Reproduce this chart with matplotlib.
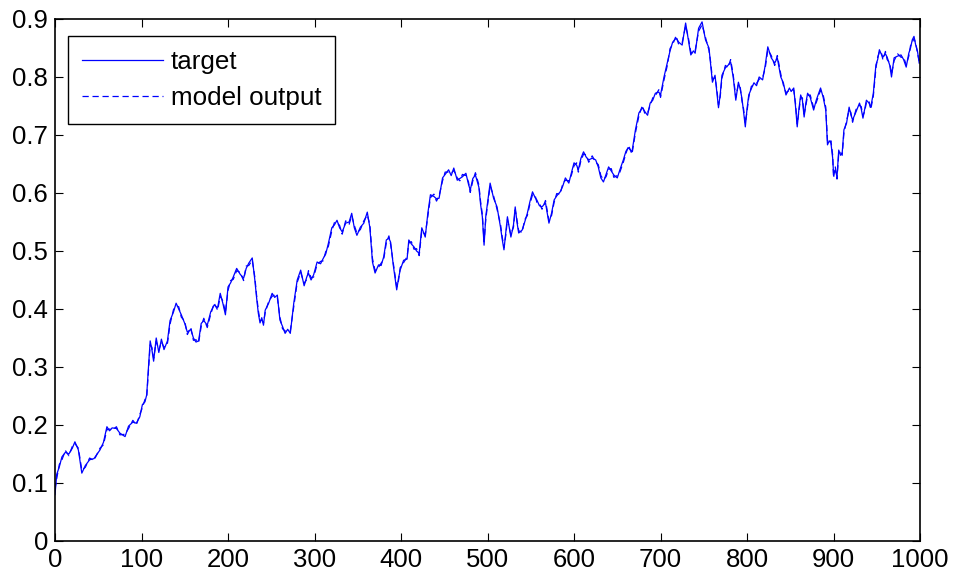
import matplotlib
matplotlib.use("Agg")
import matplotlib.pyplot as plt

# sample positions (x axis 0..1000)
steps = [
    0, 2, 5, 8, 12, 16, 20, 23, 27, 31, 35, 40, 45, 52, 56, 60, 63, 66, 71, 75,
    81, 85, 90, 94, 98, 101, 104, 106, 108, 110, 112, 114, 117, 120, 123, 126, 130, 133, 137, 140,
    143, 146, 150, 153, 157, 160, 163, 166, 169, 172, 176, 180, 184, 188, 191, 194, 197, 200, 203, 206,
    210, 214, 218, 221, 224, 228, 231, 233, 235, 237, 239, 241, 243, 247, 251, 254, 257, 260, 263, 266,
    269, 272, 276, 280, 284, 288, 291, 293, 296, 299, 303, 307, 310, 313, 316, 320, 323, 326, 329, 332,
    336, 340, 343, 346, 349, 353, 357, 361, 364, 367, 370, 374, 377, 380, 383, 386, 388, 391, 393, 395,
    397, 399, 403, 407, 409, 412, 415, 418, 421, 424, 428, 431, 434, 438, 441, 444, 448, 451, 455, 458,
    461, 465, 468, 471, 475, 478, 480, 483, 486, 490, 492, 494, 496, 498, 500, 503, 507, 511, 515, 517,
    519, 521, 523, 527, 530, 532, 534, 536, 540, 543, 546, 549, 552, 555, 557, 560, 563, 567, 569, 571,
    574, 577, 580, 584, 587, 590, 594, 597, 600, 603, 605, 608, 611, 614, 617, 621, 625, 628, 631, 634,
    637, 640, 643, 646, 650, 653, 657, 660, 663, 667, 671, 675, 679, 682, 685, 688, 691, 694, 698, 700,
    704, 708, 711, 714, 718, 721, 725, 729, 732, 735, 738, 740, 744, 748, 752, 756, 758, 760, 763, 765,
    767, 769, 771, 775, 778, 781, 784, 787, 790, 792, 794, 796, 798, 800, 802, 805, 808, 811, 814, 818,
    821, 824, 828, 832, 835, 839, 842, 845, 849, 851, 854, 856, 858, 860, 862, 864, 866, 868, 870, 873,
    877, 880, 885, 888, 891, 893, 895, 897, 899, 900, 902, 904, 906, 908, 910, 912, 915, 918, 920, 922,
    926, 930, 932, 934, 936, 938, 941, 943, 946, 949, 951, 953, 955, 957, 960, 962, 965, 967, 970, 974,
    978, 981, 984, 987, 989, 991, 993, 995, 997, 999,
]

target = [
    0.080, 0.115, 0.128, 0.145, 0.153, 0.150, 0.160, 0.171, 0.157, 0.117, 0.130, 0.140, 0.142, 0.157, 0.170, 0.197, 0.190, 0.195, 0.194, 0.186,
    0.180, 0.198, 0.205, 0.203, 0.214, 0.235, 0.240, 0.252, 0.300, 0.345, 0.330, 0.310, 0.350, 0.325, 0.348, 0.330, 0.345, 0.380, 0.395, 0.410,
    0.400, 0.390, 0.375, 0.360, 0.365, 0.350, 0.343, 0.345, 0.375, 0.380, 0.372, 0.395, 0.407, 0.402, 0.427, 0.410, 0.390, 0.438, 0.445, 0.455,
    0.470, 0.460, 0.453, 0.470, 0.479, 0.488, 0.450, 0.420, 0.393, 0.376, 0.385, 0.372, 0.398, 0.410, 0.427, 0.420, 0.424, 0.381, 0.370, 0.358,
    0.365, 0.358, 0.410, 0.450, 0.467, 0.440, 0.455, 0.462, 0.450, 0.459, 0.481, 0.478, 0.487, 0.495, 0.513, 0.540, 0.545, 0.553, 0.540, 0.533,
    0.548, 0.550, 0.565, 0.540, 0.527, 0.541, 0.548, 0.567, 0.540, 0.481, 0.462, 0.476, 0.475, 0.490, 0.519, 0.522, 0.515, 0.476, 0.455, 0.433,
    0.452, 0.467, 0.484, 0.486, 0.519, 0.512, 0.507, 0.500, 0.496, 0.540, 0.524, 0.565, 0.597, 0.594, 0.590, 0.591, 0.626, 0.632, 0.640, 0.630,
    0.643, 0.622, 0.625, 0.628, 0.634, 0.615, 0.605, 0.625, 0.631, 0.610, 0.580, 0.559, 0.510, 0.560, 0.583, 0.617, 0.591, 0.576, 0.541, 0.520,
    0.502, 0.530, 0.559, 0.524, 0.545, 0.576, 0.550, 0.531, 0.536, 0.550, 0.565, 0.585, 0.602, 0.592, 0.588, 0.578, 0.576, 0.583, 0.565, 0.548,
    0.565, 0.588, 0.595, 0.602, 0.612, 0.626, 0.617, 0.635, 0.652, 0.648, 0.640, 0.660, 0.671, 0.662, 0.657, 0.660, 0.657, 0.645, 0.626, 0.619,
    0.632, 0.645, 0.638, 0.631, 0.626, 0.640, 0.657, 0.672, 0.678, 0.671, 0.709, 0.738, 0.747, 0.740, 0.734, 0.755, 0.760, 0.772, 0.774, 0.769,
    0.800, 0.826, 0.845, 0.860, 0.867, 0.860, 0.855, 0.893, 0.865, 0.838, 0.845, 0.841, 0.884, 0.895, 0.864, 0.850, 0.820, 0.791, 0.803, 0.775,
    0.747, 0.770, 0.803, 0.816, 0.820, 0.826, 0.800, 0.760, 0.791, 0.780, 0.764, 0.740, 0.714, 0.745, 0.769, 0.780, 0.790, 0.785, 0.800, 0.795,
    0.820, 0.852, 0.833, 0.824, 0.833, 0.800, 0.790, 0.769, 0.781, 0.775, 0.781, 0.750, 0.714, 0.745, 0.769, 0.760, 0.731, 0.755, 0.772, 0.765,
    0.743, 0.760, 0.781, 0.765, 0.743, 0.683, 0.690, 0.686, 0.660, 0.634, 0.640, 0.628, 0.674, 0.665, 0.669, 0.709, 0.720, 0.748, 0.735, 0.726,
    0.740, 0.755, 0.745, 0.729, 0.745, 0.760, 0.755, 0.748, 0.772, 0.821, 0.830, 0.847, 0.840, 0.834, 0.840, 0.834, 0.820, 0.800, 0.833, 0.836,
    0.838, 0.830, 0.817, 0.841, 0.850, 0.864, 0.870, 0.855, 0.845, 0.824,
]

model = [
    0.090, 0.108, 0.132, 0.140, 0.156, 0.147, 0.163, 0.168, 0.160, 0.122, 0.127, 0.143, 0.139, 0.160, 0.166, 0.192, 0.193, 0.191, 0.197, 0.183,
    0.184, 0.194, 0.208, 0.200, 0.218, 0.230, 0.244, 0.248, 0.292, 0.338, 0.334, 0.315, 0.344, 0.329, 0.343, 0.334, 0.341, 0.374, 0.399, 0.405,
    0.404, 0.386, 0.379, 0.356, 0.368, 0.346, 0.347, 0.342, 0.370, 0.384, 0.368, 0.391, 0.410, 0.398, 0.422, 0.414, 0.394, 0.432, 0.449, 0.451,
    0.466, 0.463, 0.449, 0.474, 0.475, 0.484, 0.455, 0.424, 0.398, 0.380, 0.381, 0.376, 0.394, 0.413, 0.422, 0.424, 0.420, 0.386, 0.366, 0.362,
    0.361, 0.362, 0.404, 0.446, 0.463, 0.444, 0.451, 0.466, 0.454, 0.455, 0.477, 0.482, 0.483, 0.499, 0.508, 0.535, 0.549, 0.549, 0.544, 0.529,
    0.552, 0.546, 0.561, 0.544, 0.531, 0.537, 0.552, 0.562, 0.545, 0.487, 0.466, 0.472, 0.479, 0.486, 0.514, 0.526, 0.511, 0.480, 0.459, 0.438,
    0.448, 0.471, 0.480, 0.490, 0.514, 0.516, 0.503, 0.504, 0.492, 0.535, 0.528, 0.560, 0.592, 0.598, 0.586, 0.595, 0.621, 0.636, 0.636, 0.634,
    0.639, 0.626, 0.621, 0.632, 0.630, 0.619, 0.601, 0.621, 0.635, 0.614, 0.585, 0.563, 0.516, 0.555, 0.579, 0.612, 0.595, 0.572, 0.546, 0.524,
    0.506, 0.526, 0.554, 0.528, 0.541, 0.571, 0.554, 0.535, 0.532, 0.554, 0.561, 0.581, 0.597, 0.596, 0.584, 0.582, 0.572, 0.587, 0.569, 0.552,
    0.561, 0.584, 0.599, 0.598, 0.616, 0.622, 0.621, 0.631, 0.647, 0.652, 0.636, 0.656, 0.667, 0.666, 0.653, 0.664, 0.653, 0.649, 0.630, 0.623,
    0.628, 0.641, 0.642, 0.627, 0.630, 0.636, 0.653, 0.668, 0.682, 0.667, 0.704, 0.733, 0.751, 0.736, 0.738, 0.751, 0.764, 0.768, 0.778, 0.765,
    0.795, 0.821, 0.849, 0.856, 0.871, 0.856, 0.859, 0.888, 0.869, 0.843, 0.841, 0.845, 0.879, 0.890, 0.868, 0.846, 0.825, 0.796, 0.799, 0.780,
    0.752, 0.766, 0.798, 0.820, 0.816, 0.830, 0.804, 0.765, 0.787, 0.784, 0.760, 0.745, 0.720, 0.741, 0.765, 0.784, 0.786, 0.789, 0.796, 0.799,
    0.815, 0.847, 0.837, 0.820, 0.837, 0.805, 0.786, 0.773, 0.777, 0.779, 0.777, 0.755, 0.719, 0.741, 0.765, 0.764, 0.736, 0.751, 0.768, 0.769,
    0.747, 0.756, 0.777, 0.769, 0.748, 0.690, 0.686, 0.690, 0.665, 0.626, 0.645, 0.624, 0.668, 0.670, 0.665, 0.704, 0.724, 0.743, 0.739, 0.722,
    0.744, 0.751, 0.749, 0.733, 0.741, 0.756, 0.759, 0.744, 0.767, 0.815, 0.834, 0.843, 0.844, 0.830, 0.844, 0.830, 0.824, 0.805, 0.828, 0.840,
    0.834, 0.834, 0.821, 0.836, 0.854, 0.860, 0.866, 0.859, 0.841, 0.828,
]

x_ticks = [0, 100, 200, 300, 400, 500, 600, 700, 800, 900, 1000]
y_ticks = [0, 0.1, 0.2, 0.3, 0.4, 0.5, 0.6, 0.7, 0.8, 0.9]

plt.rcParams["font.family"] = ["Liberation Sans", "DejaVu Sans"]

fig = plt.figure(figsize=(9.55, 5.77), dpi=100)
ax = fig.add_axes([0.0576, 0.0624, 0.9058, 0.9047])

ax.plot(steps, target, color="#0000ff", lw=0.9, label="target")
ax.plot(steps, model, color="#0000ff", lw=0.9, ls=(0, (5, 3)), label="model output")

ax.set_xlim(0, 1000)
ax.set_ylim(0, 0.9)
ax.set_xticks(x_ticks)
ax.set_yticks(y_ticks)
ax.set_xticklabels([str(t) for t in x_ticks])
ax.set_yticklabels(["0"] + [f"{t:.1f}" for t in y_ticks[1:]])
ax.tick_params(direction="in", length=6, width=0.8, top=True, right=True,
               labelsize=18.5, pad=5)
for s in ax.spines.values():
    s.set_linewidth(1.2)

leg = ax.legend(loc="upper left", bbox_to_anchor=(0.015, 0.967), fontsize=18.7,
                frameon=True, fancybox=False, edgecolor="black", framealpha=1,
                handlelength=3.1, handletextpad=0.3, borderpad=0.55,
                labelspacing=0.45, borderaxespad=0)
leg.get_frame().set_linewidth(1.0)

fig.savefig("out.png", dpi=100)
